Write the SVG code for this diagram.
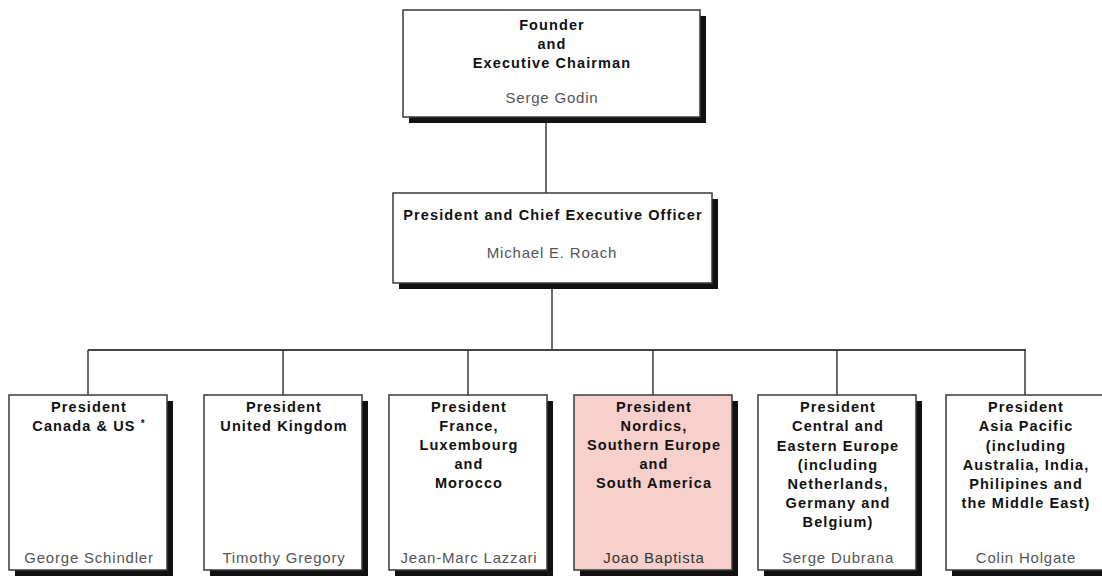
<svg xmlns="http://www.w3.org/2000/svg" width="1102" height="576" viewBox="0 0 1102 576">
  <defs>
    <style>
      .box { fill: #ffffff; stroke: #3a3a3a; stroke-width: 1.5; }
      .box.hl { fill: #f7d0cc; }
      .shadow { fill: #111111; }
      .title { font-family: "Liberation Sans", Arial, sans-serif; font-weight: bold; font-size: 14.5px; fill: #111111; text-anchor: middle; letter-spacing: 1.1px; }
      .name { font-family: "Liberation Sans", Arial, sans-serif; font-size: 15px; fill: #555555; text-anchor: middle; letter-spacing: 0.8px; }
      .link { stroke: #3a3a3a; stroke-width: 1.5; fill: none; }
      .bus { stroke: #444444; stroke-width: 2.2; fill: none; }
    </style>
  </defs>
  <rect width="1102" height="576" fill="#ffffff"/>

  <!-- reporting lines -->
  <g id="connectors">
    <line class="link" x1="546" y1="117" x2="546" y2="193"/>
    <line class="link" x1="552" y1="283" x2="552" y2="350"/>
    <line class="bus" x1="88" y1="350" x2="1026" y2="350"/>
    <line class="link" x1="88" y1="350" x2="88" y2="395"/>
    <line class="link" x1="283" y1="350" x2="283" y2="395"/>
    <line class="link" x1="468" y1="350" x2="468" y2="395"/>
    <line class="link" x1="653" y1="350" x2="653" y2="395"/>
    <line class="link" x1="837" y1="350" x2="837" y2="395"/>
    <line class="link" x1="1025" y1="350" x2="1025" y2="395"/>
  </g>

  <!-- top level -->
  <g id="founder">
    <rect class="shadow" x="409" y="16" width="297" height="107"/>
    <rect class="box" x="403" y="10" width="297" height="107"/>
    <text class="title" x="552" y="30">Founder</text>
    <text class="title" x="552" y="49">and</text>
    <text class="title" x="552" y="68">Executive Chairman</text>
    <text class="name" x="552" y="103">Serge Godin</text>
  </g>

  <g id="ceo">
    <rect class="shadow" x="399" y="199" width="319" height="90"/>
    <rect class="box" x="393" y="193" width="319" height="90"/>
    <text class="title" x="553" y="220">President and Chief Executive Officer</text>
    <text class="name" x="552" y="258">Michael E. Roach</text>
  </g>

  <!-- regional presidents -->
  <g id="canada-us">
    <rect class="shadow" x="15" y="401" width="158" height="180"/>
    <rect class="box" x="9" y="395" width="158" height="175"/>
    <text class="title" x="89" y="412">President</text>
    <text class="title" x="89" y="431">Canada &amp; US <tspan font-size="10" dy="-4">*</tspan></text>
    <text class="name" x="89" y="563">George Schindler</text>
  </g>

  <g id="united-kingdom">
    <rect class="shadow" x="210" y="401" width="158" height="180"/>
    <rect class="box" x="204" y="395" width="158" height="175"/>
    <text class="title" x="284" y="412">President</text>
    <text class="title" x="284" y="431">United Kingdom</text>
    <text class="name" x="284" y="563">Timothy Gregory</text>
  </g>

  <g id="france">
    <rect class="shadow" x="395" y="401" width="158" height="180"/>
    <rect class="box" x="389" y="395" width="158" height="175"/>
    <text class="title" x="469" y="412">President</text>
    <text class="title" x="469" y="431">France,</text>
    <text class="title" x="469" y="450">Luxembourg</text>
    <text class="title" x="469" y="469">and</text>
    <text class="title" x="469" y="488">Morocco</text>
    <text class="name" x="469" y="563">Jean-Marc Lazzari</text>
  </g>

  <g id="nordics">
    <rect class="shadow" x="580" y="401" width="158" height="180"/>
    <rect class="box hl" x="574" y="395" width="158" height="175"/>
    <text class="title" x="654" y="412">President</text>
    <text class="title" x="654" y="431">Nordics,</text>
    <text class="title" x="654" y="450">Southern Europe</text>
    <text class="title" x="654" y="469">and</text>
    <text class="title" x="654" y="488">South America</text>
    <text class="name" x="654" y="563" style="fill:#333333">Joao Baptista</text>
  </g>

  <g id="central-eastern-europe">
    <rect class="shadow" x="764" y="401" width="158" height="180"/>
    <rect class="box" x="758" y="395" width="158" height="175"/>
    <text class="title" x="838" y="412">President</text>
    <text class="title" x="838" y="431">Central and</text>
    <text class="title" x="838" y="451">Eastern Europe</text>
    <text class="title" x="838" y="470">(including</text>
    <text class="title" x="838" y="489">Netherlands,</text>
    <text class="title" x="838" y="508">Germany and</text>
    <text class="title" x="838" y="527">Belgium)</text>
    <text class="name" x="838" y="563">Serge Dubrana</text>
  </g>

  <g id="asia-pacific">
    <rect class="shadow" x="952" y="401" width="158" height="180"/>
    <rect class="box" x="946" y="395" width="158" height="175"/>
    <text class="title" x="1026" y="412">President</text>
    <text class="title" x="1026" y="431">Asia Pacific</text>
    <text class="title" x="1026" y="451">(including</text>
    <text class="title" x="1026" y="470">Australia, India,</text>
    <text class="title" x="1026" y="489">Philipines and</text>
    <text class="title" x="1026" y="508">the Middle East)</text>
    <text class="name" x="1026" y="563">Colin Holgate</text>
  </g>
</svg>
